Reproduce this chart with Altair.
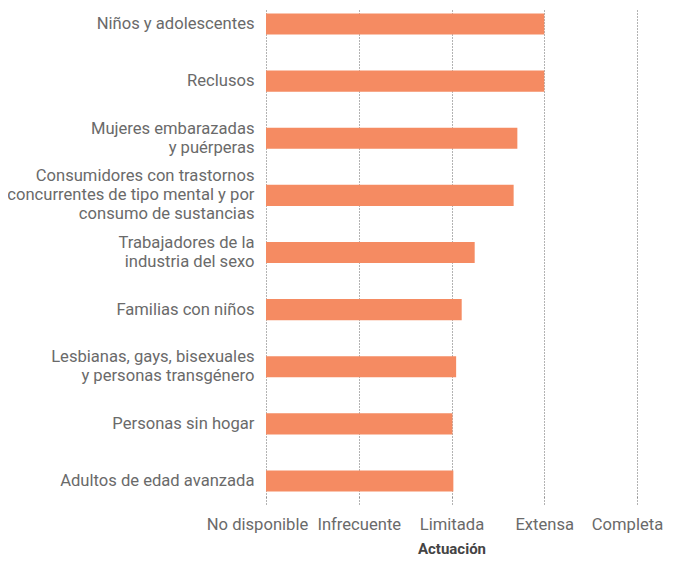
import altair as alt
import pandas as pd

categories = [
    "Niños y adolescentes",
    "Reclusos ",
    "Mujeres embarazadas |y puérperas",
    "Consumidores con trastornos|concurrentes de tipo mental y por|consumo de sustancias",
    "Trabajadores de la |industria del sexo",
    "Familias con niños",
    "Lesbianas, gays, bisexuales|y personas transgénero",
    "Personas sin hogar",
    "Adultos de edad avanzada",
]
values = [3.0, 3.0, 2.71, 2.67, 2.25, 2.11, 2.05, 2.01, 2.02]
tick_labels = ["No disponible", "Infrecuente", "Limitada", "Extensa", "Completa"]

df = pd.DataFrame({"grupo": categories, "valor": values})

label_expr = "[" + ",".join(f"'{t}'" for t in tick_labels) + "][datum.value]"

chart = alt.Chart(df).mark_bar(color="#F58B62").encode(
    y=alt.Y(
        "grupo:N",
        sort=categories,
        title=None,
        scale=alt.Scale(paddingInner=0.632, paddingOuter=0.096),
        axis=alt.Axis(
            labelExpr="split(datum.label, '|')",
            labelFont="Roboto",
            labelFontSize=16.6,
            labelColor="#6a6a6a",
            labelLineHeight=19,
            labelPadding=12,
            labelLimit=400,
            labelOffset={
                "condition": [
                    {"test": "length(split(datum.label, '|')) == 3", "value": -19},
                    {"test": "length(split(datum.label, '|')) == 2", "value": -9.5},
                ],
                "value": 0,
            },
            ticks=False,
            domain=False,
            grid=False,
        ),
    ),
    x=alt.X(
        "valor:Q",
        title="Actuación",
        scale=alt.Scale(domain=[0, 4], nice=False),
        axis=alt.Axis(
            values=[0, 1, 2, 3, 4],
            labelExpr=label_expr,
            labelFont="Roboto",
            labelFontSize=16.6,
            labelColor="#6a6a6a",
            labelPadding=11,
            labelFlush=False,
            labelOffset={
                "condition": [
                    {"test": "datum.value == 0", "value": -9},
                    {"test": "datum.value == 4", "value": -10},
                ],
                "value": 0,
            },
            domain=False,
            ticks=True,
            tickSize=8,
            tickColor="#666666",
            tickDash=[1, 2],
            grid=True,
            gridColor="#666666",
            gridDash=[1, 2],
            gridWidth=1,
            titleFont="Roboto",
            titleFontSize=15,
            titleFontWeight="bold",
            titleColor="#444444",
            titlePadding=9,
        ),
    ),
).properties(
    width=371,
    height=489,
    autosize=alt.AutoSizeParams(type="none"),
    padding={"left": 258, "top": 0, "right": 28, "bottom": 60},
).configure_view(stroke=None)

chart.save("out.html", embed_options={"renderer": "svg", "actions": False})
